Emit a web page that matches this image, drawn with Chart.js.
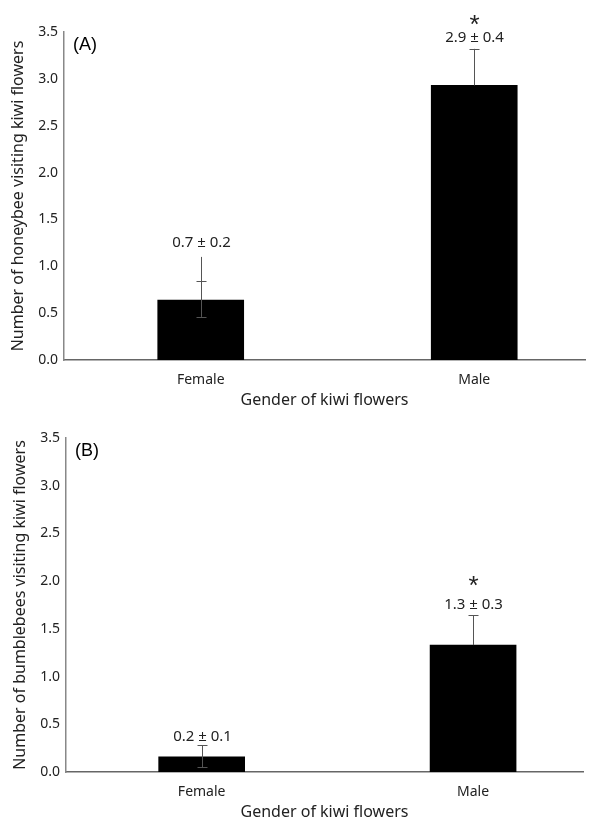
<!DOCTYPE html>
<html>
<head>
<meta charset="utf-8">
<script src="https://cdn.jsdelivr.net/npm/chart.js@4"></script>
<style>
  body { margin: 0; background: #fff; }
  .panel { position: absolute; left: 0; width: 601px; }
</style>
</head>
<body>
<div class="panel" style="top:0;height:412px"><canvas id="chartA"></canvas></div>
<div class="panel" style="top:412px;height:411px"><canvas id="chartB"></canvas></div>
<script>
const categories = ["Female", "Male"];

// (A) honeybees
const honeyMeans = [0.64, 2.93];
const honeyErrLow = [0.46, 2.93];
const honeyErrCap = [0.84, 3.32];
const honeyErrTop = [1.10, 3.32];
const honeyLabels = ["0.7 ± 0.2", "2.9 ± 0.4"];
const honeyLabelAt = [1.25, 3.44];
const honeyStar = [null, 3.63];

// (B) bumblebees
const bumbleMeans = [0.16, 1.33];
const bumbleErrLow = [0.05, 1.33];
const bumbleErrCap = [0.28, 1.64];
const bumbleErrTop = [0.28, 1.64];
const bumbleLabels = ["0.2 ± 0.1", "1.3 ± 0.3"];
const bumbleLabelAt = [0.37, 1.75];
const bumbleStar = [null, 2.0];

const yTicks = [0, 0.5, 1, 1.5, 2, 2.5, 3, 3.5];

const sans = "'Noto Sans', 'Open Sans', sans-serif";

const annotate = {
  id: "annotate",
  afterDatasetsDraw(chart, args, opts) {
    const { ctx, scales: { x, y }, chartArea } = chart;
    ctx.save();
    categories.forEach((c, i) => {
      const px = Math.round(x.getPixelForValue(i)) + 0.5;
      // error bar
      ctx.strokeStyle = "#555";
      ctx.lineWidth = 1;
      ctx.beginPath();
      ctx.moveTo(px, y.getPixelForValue(opts.low[i]));
      ctx.lineTo(px, y.getPixelForValue(opts.top[i]));
      const caps = [opts.cap[i]];
      if (opts.low[i] < opts.means[i]) caps.push(opts.low[i]);
      caps.forEach((v) => {
        const py = Math.round(y.getPixelForValue(v)) + 0.5;
        ctx.moveTo(px - 5, py);
        ctx.lineTo(px + 5, py);
      });
      ctx.stroke();
      // mean ± se text
      ctx.fillStyle = "#222";
      ctx.font = "15px " + sans;
      ctx.textAlign = "center";
      ctx.textBaseline = "middle";
      ctx.fillText(opts.labels[i], px, y.getPixelForValue(opts.labelAt[i]));
      if (opts.star[i] != null) {
        ctx.font = "26px 'Liberation Sans', sans-serif";
        ctx.fillText("*", px, y.getPixelForValue(opts.star[i]) + 6);
      }
    });
    ctx.font = "18px 'Liberation Sans', Arial, sans-serif";
    ctx.textAlign = "left";
    ctx.textBaseline = "middle";
    ctx.fillStyle = "#000";
    ctx.fillText(opts.panel, chartArea.left + 9, chartArea.top + 13);
    ctx.restore();
  },
};

function makeChart(id, means, yTitle, extra, pad) {
  return new Chart(document.getElementById(id), {
    type: "bar",
    data: {
      datasets: [
        {
          data: means.map((m, i) => ({ x: i, y: m })),
          backgroundColor: "#000",
          borderWidth: 0,
          barThickness: 86,
        },
      ],
    },
    options: {
      responsive: true,
      maintainAspectRatio: false,
      animation: false,
      layout: { padding: pad },
      plugins: {
        legend: { display: false },
        tooltip: { enabled: false },
        annotate: Object.assign({ means }, extra),
      },
      scales: {
        x: {
          type: "linear",
          offset: false,
          min: -0.5,
          max: 1.405,
          grid: { display: false, drawTicks: false },
          border: { color: "#666", width: 1.5 },
          afterBuildTicks: (s) => {
            s.ticks = categories.map((c, i) => ({ value: i }));
          },
          ticks: {
            padding: 12,
            color: "#222",
            font: { family: sans, size: 14 },
            callback: (v) => categories[v],
          },
          title: {
            display: true,
            text: "Gender of kiwi flowers",
            color: "#222",
            font: { family: sans, size: 16 },
            padding: { top: -10, bottom: 0 },
          },
        },
        y: {
          min: 0,
          max: 3.5,
          grid: { display: false, drawTicks: false },
          border: { color: "#888", width: 1.5 },
          afterBuildTicks: (s) => {
            s.ticks = yTicks.map((v) => ({ value: v }));
          },
          ticks: {
            padding: 6,
            color: "#222",
            font: { family: sans, size: 14 },
            callback: (v) => v.toFixed(1),
          },
          title: {
            display: true,
            text: yTitle,
            color: "#222",
            font: { family: sans, size: 16 },
            padding: { top: 0, bottom: 4 },
          },
        },
      },
    },
    plugins: [annotate],
  });
}

makeChart(
  "chartA",
  honeyMeans,
  "Number of honeybee visiting kiwi flowers",
  {
    low: honeyErrLow, cap: honeyErrCap, top: honeyErrTop,
    labels: honeyLabels, labelAt: honeyLabelAt, star: honeyStar, panel: "(A)",
  },
  { top: 32, left: 9, right: 16, bottom: 2 }
);

makeChart(
  "chartB",
  bumbleMeans,
  "Number of bumblebees visiting kiwi flowers",
  {
    low: bumbleErrLow, cap: bumbleErrCap, top: bumbleErrTop,
    labels: bumbleLabels, labelAt: bumbleLabelAt, star: bumbleStar, panel: "(B)",
  },
  { top: 26, left: 11, right: 18, bottom: 1 }
);
</script>
</body>
</html>
